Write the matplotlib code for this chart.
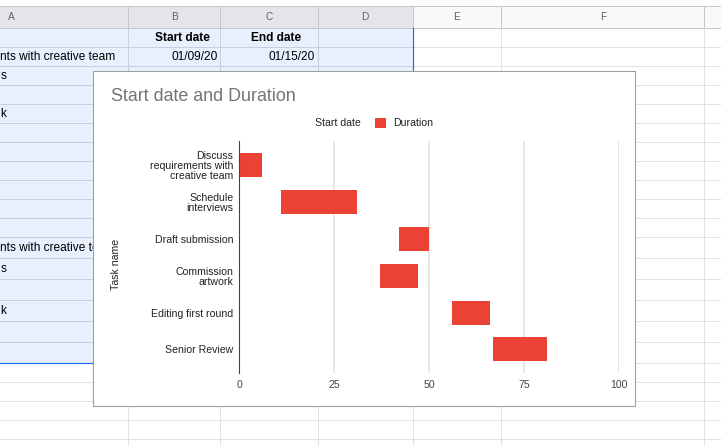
import matplotlib
matplotlib.use("Agg")
import matplotlib.pyplot as plt
from matplotlib.patches import Rectangle

# ---------------- data ----------------
task_labels = ["Discuss\nrequirements with\ncreative team", "Schedule\ninterviews",
               "Draft submission", "Commission\nartwork", "Editing first round", "Senior Review"]
start_days = [0, 11, 42, 37, 56, 67]
durations = [6, 20, 8, 10, 10, 14]
x_ticks = [0, 25, 50, 75, 100]
column_letters = ["A", "B", "C", "D", "E", "F"]
header_labels = ["Start date", "End date"]
first_dates = ["01/09/20", "01/15/20"]
# visible (scrolled) parts of column A in the sheet, rows 2-7 and 12-17
col_a_block1 = ["nts with creative team", "s", "", "k", "", ""]
col_a_block2 = ["nts with creative te", "s", "", "k", "", ""]

FONT = "Liberation Sans"
plt.rcParams["font.family"] = [FONT, "DejaVu Sans"]

W, H = 721, 446
fig = plt.figure(figsize=(W / 100, H / 100), dpi=100)
fig.patch.set_facecolor("white")

# ---------------- spreadsheet background (pixel coords) ----------------
bg = fig.add_axes([0, 0, 1, 1])
bg.set_xlim(0, W)
bg.set_ylim(H, 0)
bg.axis("off")

px = 0.72  # one pixel in points
col_bounds = [-106, 128, 220.3, 317.7, 412.6, 501.3, 704.3, 760]
col_centers = [11, 174, 269, 365, 457, 603]
row_bounds = [28.3, 47.3, 66.3, 85.3, 104.3, 123.3, 142.3, 161.3, 180.3, 199.3, 218.3,
              237.3, 258.3, 279.3, 300.3, 321.3, 342.3, 362.8, 382.3, 401.3, 420.3, 439.3]
hdr_top, hdr_bot = 6.3, 28.3
sel_right, sel_bottom = 412.6, 362.8

# header band
bg.fill_between([0, sel_right], hdr_top, hdr_bot, color="#e3e5e8", lw=0, zorder=1)
bg.fill_between([sel_right, W], hdr_top, hdr_bot, color="#f8f9fa", lw=0, zorder=1)
bg.plot([0, W], [hdr_top, hdr_top], color="#c4c7c5", lw=px, zorder=2)
bg.plot([0, W], [hdr_bot, hdr_bot], color="#c4c7c5", lw=px, zorder=2)
for xb in col_bounds[1:-1]:
    bg.plot([xb, xb], [hdr_top, hdr_bot], color="#c4c7c5", lw=px, zorder=2)
for cx, letter in zip(col_centers, column_letters):
    bg.text(cx, 17.5, letter, ha="center", va="center", fontsize=7.3, color="#5f6368")

# selection fill
bg.fill_between([0, sel_right], hdr_bot, sel_bottom, color="#e8f0fe", lw=0, zorder=1)

# gridlines
for yb in row_bounds[1:]:
    if yb < sel_bottom - 1:
        bg.plot([0, sel_right], [yb, yb], color="#c6d0e2", lw=px, zorder=2)
        bg.plot([sel_right, W], [yb, yb], color="#e2e2e2", lw=px, zorder=2)
    else:
        bg.plot([0, W], [yb, yb], color="#e2e2e2", lw=px, zorder=2)
for xb in col_bounds[1:-1]:
    if xb < sel_right - 1:
        bg.plot([xb, xb], [hdr_bot, sel_bottom], color="#c6d0e2", lw=px, zorder=2)
        bg.plot([xb, xb], [sel_bottom, H], color="#e2e2e2", lw=px, zorder=2)
    else:
        bg.plot([xb, xb], [hdr_bot, H], color="#e2e2e2", lw=px, zorder=2)

# selection border
bg.plot([sel_right, sel_right], [hdr_bot, sel_bottom], color="#1a73e8", lw=px * 1.2, zorder=3)
bg.plot([0, sel_right], [sel_bottom, sel_bottom], color="#1a73e8", lw=px * 1.2, zorder=3)

# cell text
cell_fs = 8.6
def row_center(r):
    return (row_bounds[r - 1] + row_bounds[r]) / 2 + 0.6

bg.text(182.3, row_center(1), header_labels[0], ha="center", va="center",
        fontsize=cell_fs, fontweight="bold", color="#000000", zorder=4)
bg.text(275.7, row_center(1), header_labels[1], ha="center", va="center",
        fontsize=cell_fs, fontweight="bold", color="#000000", zorder=4)
bg.text(217.5, row_center(2), first_dates[0], ha="right", va="center",
        fontsize=cell_fs, color="#000000", zorder=4)
bg.text(314.3, row_center(2), first_dates[1], ha="right", va="center",
        fontsize=cell_fs, color="#000000", zorder=4)
for block_start, frags in ((2, col_a_block1), (12, col_a_block2)):
    for i, frag in enumerate(frags):
        if frag:
            bg.text(0.5, row_center(block_start + i), frag, ha="left", va="center",
                    fontsize=cell_fs, color="#000000", zorder=4)

# chart box
bg.add_patch(Rectangle((93.3, 71), 634.7 - 93.3, 406 - 71, facecolor="white",
                       edgecolor="#9e9e9e", lw=px * 1.1, zorder=10))

# ---------------- chart ----------------
left_px, right_px, top_px, bot_px = 239.3, 618.7, 141.0, 373.3
ax = fig.add_axes([left_px / W, 1 - bot_px / H, (right_px - left_px) / W, (bot_px - top_px) / H])
ax.patch.set_alpha(0)
ypos = list(range(len(task_labels)))
ax.barh(ypos, start_days, height=0.65, color="none", label="Start date")
ax.barh(ypos, durations, left=start_days, height=0.65, color="#ea4335", label="Duration",
        zorder=3)
ax.set_xlim(0, 100)
ax.set_ylim(5.65, -0.66)
ax.set_xticks(x_ticks)
ax.set_yticks(ypos)
ax.set_yticklabels(task_labels, linespacing=1.0)
for s in ["top", "right", "bottom"]:
    ax.spines[s].set_visible(False)
ax.spines["left"].set_color("#444444")
ax.spines["left"].set_linewidth(px * 1.1)
ax.spines["left"].set_zorder(4)
ax.xaxis.grid(True, color="#e0e0e0", lw=1.1)
ax.set_axisbelow(True)
ax.tick_params(axis="x", length=0, labelsize=7.6, colors="#444444", pad=5)
ax.tick_params(axis="y", length=0, labelsize=7.6, colors="#222222", pad=4.3)

fig.text(111 / W, 1 - 96.7 / H, "Start date and Duration", ha="left", va="center",
         fontsize=12.9, color="#757575")
fig.text(115.7 / W, 1 - 264 / H, "Task name", rotation=90, ha="center", va="center",
         fontsize=7.6, color="#222222")

h, l = ax.get_legend_handles_labels()
fig.legend(h, l, loc="center left", bbox_to_anchor=(297 / W, 1 - 123.3 / H),
           ncol=2, frameon=False, fontsize=7.6, handlelength=1.0, handleheight=1.0,
           handletextpad=0.69, columnspacing=1.4, borderpad=0, borderaxespad=0,
           labelcolor="#222222")

fig.savefig("out.png", dpi=100)
